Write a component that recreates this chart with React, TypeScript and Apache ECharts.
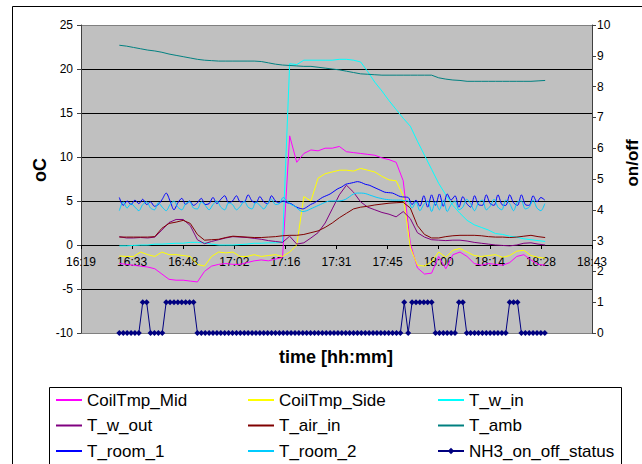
import React, { useEffect, useRef } from "react";
import * as echarts from "echarts";

// ---- time grids (minutes after midnight) ----
const TEMP_START_MIN = 990; // 16:30
const TEMP_STEP_MIN = 2;
const STATUS_START_MIN = 990;
const STATUS_STEP_MIN = 1.1;
const X_UNIT_MIN = 14.4; // one axis unit = 0.01 day (Excel serial time)

// ---- axis ticks ----
const xMinUnit = 68; // 16:19
const xMaxUnit = 78; // 18:43
const yLeftMin = -10;
const yLeftMax = 25;
const yRightMin = 0;
const yRightMax = 10;

// ---- temperature series (°C), one value every 2 minutes from 16:30 ----
const coilTmpMid = [-2.1, -2.2, -2.3, -2.4, -2.5, -2.7, -3.3, -3.9, -4.0, -4.0, -4.1, -4.2, -3.0, -2.4, -2.2, -2.1, -2.2, -2.2, -2.0, -1.8, -1.7, -1.8, -1.6, -1.4, 12.4, 9.4, 10.4, 10.8, 10.7, 11.0, 11.0, 11.2, 10.6, 10.5, 10.4, 10.3, 10.2, 9.9, 9.7, 9.4, 7.3, 0.2, -2.6, -3.3, -3.2, -1.3, -2.7, -1.1, -0.8, -1.3, -2.1, -2.3, -2.1, -2.2, -2.3, -2.0, -1.3, -1.1, -1.7, -2.2, -2.3];
const coilTmpSide = [-1.25, -1.3, -1.3, -0.8, -1.1, -1.3, -0.8, -1.1, -1.1, -1.2, -1.3, -2.2, -2.4, -1.3, -0.8, -0.9, -0.8, -1.3, -1.3, -1.1, -1.3, -1.2, -1.1, -1.3, -0.8, 0.0, 5.5, 5.0, 7.6, 8.1, 8.3, 8.5, 8.5, 8.4, 8.7, 8.5, 8.3, 7.8, 7.4, 7.3, 5.6, -0.3, -2.3, -2.4, -1.9, -0.8, -1.4, -0.6, -0.4, -0.8, -1.2, -1.3, -1.2, -1.1, -1.4, -1.2, -0.7, -0.6, -1.2, -1.4, -1.5];
const tWIn = [-0.1, -0.1, -0.05, 0.0, 0.0, 0.1, 0.1, 0.15, 0.2, 0.2, 0.3, 0.3, 0.25, 0.1, 0.0, 0.0, 0.0, 0.05, 0.1, 0.2, 0.2, 0.25, 0.25, 0.3, 20.6, 20.5, 21.0, 21.0, 21.0, 21.0, 21.0, 21.1, 21.1, 21.0, 20.8, 19.7, 18.5, 17.5, 16.4, 15.4, 14.4, 13.5, 11.8, 10.2, 8.6, 7.0, 5.7, 4.5, 3.6, 2.8, 2.3, 2.0, 1.7, 1.3, 1.2, 1.0, 0.9, 0.7, 0.6, 0.5, 0.4];
const tWOut = [0.95, 0.8, 0.8, 0.85, 0.8, 0.9, 1.7, 2.55, 2.9, 2.9, 2.2, 0.6, 0.15, 0.4, 0.6, 0.8, 0.95, 0.9, 0.85, 0.75, 0.65, 0.5, 0.4, 0.3, 1.0, 0.1, 0.25, 0.8, 1.4, 2.5, 4.1, 5.7, 6.8, 6.0, 4.9, 4.3, 4.0, 3.7, 3.5, 3.2, 3.8, 3.0, 1.4, 0.9, 0.6, 0.55, 0.5, 0.55, 0.55, 0.45, 0.3, 0.2, 0.1, 0.0, -0.05, -0.1, 0.0, 0.2, 0.25, 0.1, 0.0];
const tAirIn = [0.9, 0.9, 0.9, 0.9, 0.9, 0.95, 1.9, 2.45, 2.6, 2.8, 2.45, 1.2, 0.55, 0.6, 0.65, 0.85, 1.0, 0.95, 0.9, 0.85, 0.85, 0.9, 0.95, 1.05, 1.1, 1.1, 1.2, 1.4, 1.6, 2.0, 2.5, 3.1, 3.6, 4.1, 4.3, 4.4, 4.55, 4.65, 4.75, 4.8, 4.85, 4.2, 2.2, 1.2, 0.8, 0.8, 0.95, 1.05, 1.1, 1.1, 1.1, 1.05, 0.95, 0.9, 0.9, 0.85, 0.9, 1.0, 1.1, 0.95, 0.85];
const tAmb = [22.7, 22.6, 22.45, 22.3, 22.15, 22.05, 21.9, 21.7, 21.55, 21.4, 21.25, 21.1, 21.0, 20.95, 20.9, 20.9, 20.9, 20.9, 20.9, 20.9, 20.85, 20.7, 20.55, 20.45, 20.4, 20.35, 20.3, 20.3, 20.2, 20.1, 20.0, 19.9, 19.75, 19.6, 19.45, 19.4, 19.35, 19.3, 19.3, 19.3, 19.3, 19.3, 19.3, 19.3, 19.3, 19.0, 18.85, 18.75, 18.7, 18.6, 18.6, 18.6, 18.6, 18.6, 18.6, 18.6, 18.6, 18.6, 18.6, 18.65, 18.7];

// ---- room temperatures and status, one value every 1.1 minutes from 16:30 ----
const tRoom1 = [5.4, 4.5, 5.0, 4.6, 5.1, 4.7, 5.2, 4.6, 4.9, 4.4, 4.6, 5.2, 5.9, 5.0, 4.0, 4.8, 5.3, 4.6, 5.0, 4.5, 4.8, 5.3, 4.6, 4.7, 5.4, 4.7, 5.2, 5.6, 4.8, 5.0, 5.6, 4.9, 4.9, 5.7, 5.0, 4.8, 5.5, 4.9, 4.7, 5.6, 5.0, 4.8, 5.0, 4.8, 4.7, 4.4, 4.2, 4.1, 4.3, 4.6, 4.8, 5.1, 5.4, 5.6, 5.8, 6.1, 6.4, 6.6, 6.9, 7.0, 7.1, 7.2, 7.1, 6.9, 6.8, 6.6, 6.4, 6.2, 6.0, 5.95, 5.9, 5.7, 5.5, 5.45, 5.4, 4.6, 5.1, 4.4, 5.6, 4.3, 5.7, 4.5, 5.8, 4.4, 5.8, 5.1, 5.6, 4.3, 5.5, 4.7, 4.3, 5.6, 4.6, 4.5, 5.7, 4.7, 4.5, 5.7, 4.6, 4.5, 5.7, 4.8, 4.5, 5.7, 4.6, 4.5, 5.6, 4.9, 5.4, 5.1];
const tRoom2 = [3.9, 4.9, 4.2, 4.7, 4.3, 3.9, 4.6, 4.9, 4.2, 4.0, 4.8, 4.3, 3.9, 4.6, 5.0, 4.3, 4.0, 4.7, 4.9, 4.2, 4.1, 4.9, 4.5, 4.0, 4.6, 5.0, 4.3, 4.0, 4.8, 4.6, 4.0, 4.4, 5.0, 4.3, 4.1, 4.9, 4.5, 4.1, 4.7, 5.2, 4.6, 4.7, 5.4, 5.0, 4.6, 4.4, 4.0, 3.8, 3.9, 4.1, 4.3, 4.5, 4.7, 4.9, 5.0, 5.0, 5.0, 5.05, 5.2, 5.5, 5.8, 5.9, 5.9, 5.85, 5.7, 5.55, 5.4, 5.3, 5.2, 5.15, 5.1, 5.1, 5.1, 5.05, 5.0, 4.2, 4.9, 3.9, 4.6, 5.0, 3.8, 4.9, 4.0, 5.1, 3.8, 4.6, 5.0, 4.0, 4.3, 5.2, 4.7, 3.9, 4.8, 5.1, 4.0, 4.4, 5.2, 4.3, 4.0, 5.1, 4.7, 3.9, 4.9, 5.0, 4.1, 4.3, 5.1, 4.2, 3.9, 4.7];
const nh3Status = [0, 0, 0, 0, 0, 0, 1, 1, 0, 0, 0, 0, 1, 1, 1, 1, 1, 1, 1, 1, 0, 0, 0, 0, 0, 0, 0, 0, 0, 0, 0, 0, 0, 0, 0, 0, 0, 0, 0, 0, 0, 0, 0, 0, 0, 0, 0, 0, 0, 0, 0, 0, 0, 0, 0, 0, 0, 0, 0, 0, 0, 0, 0, 0, 0, 0, 0, 0, 0, 0, 0, 0, 0, 1, 0, 1, 1, 1, 1, 1, 1, 0, 0, 0, 0, 0, 0, 1, 1, 0, 0, 0, 0, 0, 0, 0, 0, 0, 0, 0, 1, 1, 1, 0, 0, 0, 0, 0, 0, 0];

const FONT = "'Liberation Sans', Arial, sans-serif";

function fmtTime(v: number): string {
  const m = Math.floor(v * X_UNIT_MIN + 1e-6);
  const h = Math.floor(m / 60);
  const mm = m % 60;
  return `${h}:${String(mm).padStart(2, "0")}`;
}

function toPairs(start: number, step: number, vals: number[]) {
  return vals.map((v, i) => [(start + step * i) / X_UNIT_MIN, v]);
}

export default function App() {
  const ref = useRef<HTMLDivElement>(null);
  useEffect(() => {
    if (!ref.current) return;
    const chart = echarts.init(ref.current, null, { renderer: "svg" });
    const gridTop = 25;
    const gridHeight = 308;
    // distance from the plot bottom up to the value 0 on the left axis
    const zeroOffset = (gridHeight * (0 - yLeftMin)) / (yLeftMax - yLeftMin);

    const tempLine = (name: string, color: string, vals: number[]) => ({
      name,
      type: "line",
      yAxisIndex: 0,
      data: toPairs(TEMP_START_MIN, TEMP_STEP_MIN, vals),
      symbol: "none",
      lineStyle: { color, width: 1 },
      itemStyle: { color },
    });
    const roomLine = (name: string, color: string, vals: number[]) => ({
      name,
      type: "line",
      yAxisIndex: 0,
      data: toPairs(STATUS_START_MIN, STATUS_STEP_MIN, vals),
      symbol: "none",
      smooth: 0.3,
      lineStyle: { color, width: 1 },
      itemStyle: { color },
    });
    const legendBase = {
      orient: "vertical",
      top: 390,
      itemWidth: 26,
      itemHeight: 8,
      itemGap: 5.5,
      padding: 0,
      textStyle: { fontSize: 17, fontFamily: FONT, color: "#000", lineHeight: 20 },
    };
    const plain = (name: string) => ({ name, itemStyle: { opacity: 0 } });
    const option: any = {
      animation: false,
      backgroundColor: "#fff",
      grid: {
        left: 81,
        right: 50,
        top: gridTop,
        height: gridHeight,
        show: true,
        backgroundColor: "#C0C0C0",
        borderWidth: 0,
      },
      xAxis: {
        type: "value",
        min: xMinUnit,
        max: xMaxUnit,
        interval: 1,
        position: "bottom",
        offset: -zeroOffset,
        axisLine: { onZero: false, lineStyle: { color: "#000", width: 1 } },
        axisTick: { show: true, length: 4, lineStyle: { color: "#000" } },
        axisLabel: {
          formatter: fmtTime,
          fontSize: 12,
          fontFamily: FONT,
          color: "#000",
          margin: 11,
          showMinLabel: true,
          showMaxLabel: true,
        },
        splitLine: { show: false },
      },
      yAxis: [
        {
          type: "value",
          min: yLeftMin,
          max: yLeftMax,
          interval: 5,
          position: "left",
          axisLine: { show: true, onZero: false, lineStyle: { color: "#404040" } },
          axisTick: { show: true, length: 4, lineStyle: { color: "#404040" } },
          axisLabel: { fontSize: 12, fontFamily: FONT, color: "#000", margin: 8 },
          splitLine: {
            show: true,
            lineStyle: {
              color: ["#808080", "#000", "#000", "#000", "#000", "#000", "#000", "#808080"],
              width: 1,
            },
          },
        },
        {
          type: "value",
          min: yRightMin,
          max: yRightMax,
          interval: 1,
          position: "right",
          axisLine: { show: true, onZero: false, lineStyle: { color: "#404040" } },
          axisTick: { show: true, length: 4, lineStyle: { color: "#404040" } },
          axisLabel: { fontSize: 12, fontFamily: FONT, color: "#000", margin: 5 },
          splitLine: { show: false },
        },
      ],
      legend: [
        { ...legendBase, left: 55, data: [plain("CoilTmp_Mid"), plain("T_w_out"), plain("T_room_1")] },
        { ...legendBase, left: 247, data: [plain("CoilTmp_Side"), plain("T_air_in"), plain("T_room_2")] },
        { ...legendBase, left: 437, data: [plain("T_w_in"), plain("T_amb"), { name: "NH3_on_off_status" }] },
      ],
      graphic: [
        {
          type: "rect",
          silent: true,
          shape: { x: 12.5, y: 6.5, width: 700, height: 520 },
          style: { fill: "none", stroke: "#000", lineWidth: 1 },
        },
        {
          type: "rect",
          silent: true,
          shape: { x: 49.5, y: 387.5, width: 572, height: 120 },
          style: { fill: "none", stroke: "#000", lineWidth: 1 },
        },
        {
          type: "text",
          silent: true,
          x: 40,
          y: 170,
          rotation: Math.PI / 2,
          style: { text: "oC", font: `bold 18px ${FONT}`, fill: "#000", align: "center", verticalAlign: "middle" },
        },
        {
          type: "text",
          silent: true,
          x: 632,
          y: 163,
          rotation: Math.PI / 2,
          style: { text: "on/off", font: `bold 17px ${FONT}`, fill: "#000", align: "center", verticalAlign: "middle" },
        },
        {
          type: "text",
          silent: true,
          x: 336,
          y: 357,
          style: { text: "time [hh:mm]", font: `bold 18px ${FONT}`, fill: "#000", align: "center", verticalAlign: "middle" },
        },
      ],
      series: [
        tempLine("CoilTmp_Mid", "#FF00FF", coilTmpMid),
        tempLine("CoilTmp_Side", "#FFFF00", coilTmpSide),
        tempLine("T_w_in", "#00FFFF", tWIn),
        tempLine("T_w_out", "#800080", tWOut),
        tempLine("T_air_in", "#800000", tAirIn),
        tempLine("T_amb", "#008080", tAmb),
        roomLine("T_room_1", "#0000FF", tRoom1),
        roomLine("T_room_2", "#00CCFF", tRoom2),
        {
          name: "NH3_on_off_status",
          type: "line",
          yAxisIndex: 1,
          data: toPairs(STATUS_START_MIN, STATUS_STEP_MIN, nh3Status),
          symbol: "diamond",
          symbolSize: 6,
          showSymbol: true,
          lineStyle: { color: "#000080", width: 1 },
          itemStyle: { color: "#000080" },
        },
      ],
    };
    chart.setOption(option);
    return () => chart.dispose();
  }, []);
  return (
    <div
      ref={ref}
      style={{ position: "fixed", left: 0, top: 0, width: 642, height: 464, background: "#fff" }}
    />
  );
}
